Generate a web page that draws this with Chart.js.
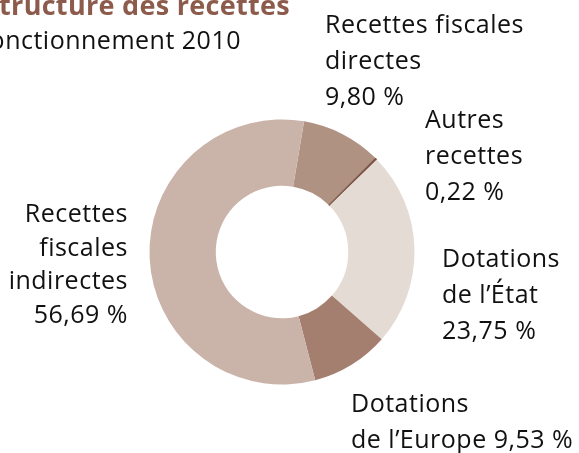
<!DOCTYPE html>
<html lang="fr">
<head>
<meta charset="utf-8">
<script src="https://cdn.jsdelivr.net/npm/chart.js@4"></script>
<style>
  html, body { margin: 0; padding: 0; background: #fff; overflow: hidden; }
  #wrap { position: relative; width: 579px; height: 453px; }
  #myChart { position: absolute; left: 0; top: 0; }
  .txt { position: absolute; font-family: "Open Sans", "Noto Sans", sans-serif; font-size: 25px; letter-spacing: 0.5px; line-height: 36px; color: #111; white-space: nowrap; font-variant-ligatures: none; }
  .titre { font-weight: bold; color: #8d5b4c; font-size: 27px; letter-spacing: 0.3px; }
</style>
</head>
<body>
<div id="wrap">
  <canvas id="myChart" width="579" height="453"></canvas>
</div>
<script>
// données
const categories = ['Recettes fiscales directes', 'Autres recettes', 'Dotations de l\u2019État', 'Dotations de l\u2019Europe', 'Recettes fiscales indirectes'];
const pourcentages = [9.80, 0.22, 23.75, 9.53, 56.69];
const couleurs = ['#b09283', '#7b5143', '#e5dbd5', '#a47f6f', '#cab4a9'];

// découpage des lignes de chaque étiquette
const lignes = [
  ['Recettes fiscales', 'directes'],
  ['Autres', 'recettes'],
  ['Dotations', 'de l\u2019État'],
  ['Dotations', 'de l\u2019Europe'],
  ['Recettes', 'fiscales', 'indirectes']
];

function formatPct(v) {
  return v.toFixed(2).replace('.', ',') + ' %';
}

const wrap = document.getElementById('wrap');

function ajouterTexte(html, style, classe) {
  const d = document.createElement('div');
  d.className = 'txt' + (classe ? ' ' + classe : '');
  d.innerHTML = html;
  Object.assign(d.style, style);
  wrap.appendChild(d);
}

// titre
ajouterTexte('Structure des recettes', { right: '289px', top: '-13px' }, 'titre');
ajouterTexte('Fonctionnement 2010', { right: '338px', top: '21px' });

// position des étiquettes
const placements = [
  { left: '325px', top: '5px', textAlign: 'left' },
  { left: '425px', top: '100px', textAlign: 'left' },
  { left: '442px', top: '239px', textAlign: 'left' },
  { left: '351px', top: '384px', textAlign: 'left' },
  { right: '451px', top: '196px', textAlign: 'right', lineHeight: '33.5px' }
];

categories.forEach((c, i) => {
  let l = lignes[i].slice();
  if (i == 3) {
    l[l.length - 1] += ' ' + formatPct(pourcentages[i]);
  } else {
    l.push(formatPct(pourcentages[i]));
  }
  ajouterTexte(l.join('<br>'), placements[i]);
});

const ctx = document.getElementById('myChart').getContext('2d');

new Chart(ctx, {
  type: 'doughnut',
  data: {
    labels: categories,
    datasets: [{
      data: pourcentages,
      backgroundColor: couleurs,
      // la petite part est soulignée d'un trait pour rester visible
      borderColor: couleurs,
      borderWidth: [0, 1, 0, 0, 0],
      borderAlign: 'center'
    }]
  },
  options: {
    responsive: false,
    animation: false,
    rotation: 9.6,
    cutout: '50%',
    layout: {
      padding: { left: 149, right: 164, top: 119, bottom: 68 }
    },
    plugins: {
      legend: { display: false },
      tooltip: { enabled: false }
    }
  }
});
</script>
</body>
</html>
